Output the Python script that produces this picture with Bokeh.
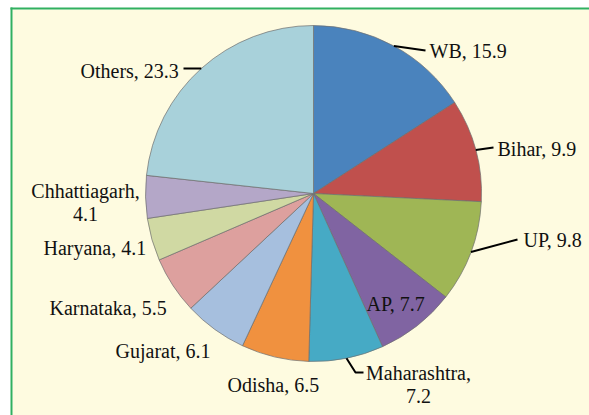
import numpy as np
from bokeh.plotting import figure
from bokeh.models import Range1d, ColumnDataSource
from bokeh.core.properties import value
from bokeh.embed import file_html
from bokeh.resources import INLINE

# ---- data ----
categories = ["WB", "Bihar", "UP", "AP", "Maharashtra", "Odisha", "Gujarat",
              "Karnataka", "Haryana", "Chhattiagarh", "Others"]
shares = [15.9, 9.9, 9.8, 7.7, 7.2, 6.5, 6.1, 5.5, 4.1, 4.1, 23.3]
colors = ["#4A83BD", "#C0504D", "#9FB655", "#8064A2", "#46AAC5", "#F0913F",
          "#A6BFDE", "#DDA09E", "#D0D9A3", "#B4A7C8", "#A8D1DA"]
two_line = {"Maharashtra", "Chhattiagarh"}

# ---- layout (page pixel coordinates) ----
W, H = 589, 415
def X(px):
    return px
def Y(py):
    return H - py

cx, cy, R = 313, 193, 168
# label anchor: (x, first baseline y, align), leader end points (page coords) or None
label_layout = {
    "WB": (429, 50, "left", [(425, 50)]),
    "Bihar": (497, 148, "left", [(493, 147)]),
    "UP": (523, 239, "left", [(517, 239)]),
    "AP": (366, 303, "left", None),
    "Maharashtra": (418, 372, "center", [(355, 372), (363, 372)]),
    "Odisha": (227, 384, "left", None),
    "Gujarat": (115, 350, "left", None),
    "Karnataka": (49, 307, "left", None),
    "Haryana": (43, 247, "left", None),
    "Chhattiagarh": (85, 190, "center", None),
    "Others": (80, 70, "left", [(183, 68)]),
}
line_step = 23

p = figure(width=W, height=H, output_backend="svg", toolbar_location=None,
           x_range=Range1d(0, W), y_range=Range1d(0, H), min_border=0)
p.axis.visible = False
p.grid.visible = False
p.outline_line_color = None
p.background_fill_color = "white"
p.border_fill_color = "white"

# panel background and border
p.quad(left=X(12), right=W, bottom=0, top=Y(9), fill_color="#FEFBE0", line_color=None)
p.line(x=[X(10), W], y=[Y(8), Y(8)], line_color="#30B060", line_width=2)
p.line(x=[X(11), X(11)], y=[0, Y(7)], line_color="#30B060", line_width=2)

# wedges
vals = np.array(shares, dtype=float)
total = vals.sum()
cum = np.concatenate([[0], np.cumsum(vals)])
start = np.pi / 2 - 2 * np.pi * cum[1:] / total
end = np.pi / 2 - 2 * np.pi * cum[:-1] / total
src = ColumnDataSource(dict(start=start, end=end, color=colors, cat=categories))
p.wedge(x=X(cx), y=Y(cy), radius=R, start_angle="start", end_angle="end",
        fill_color="color", line_color="#6E6E6E", line_width=0.7, source=src)

# labels and leader lines
tx, ty, tt, ta = [], [], [], []
for i, (cat, v) in enumerate(zip(categories, shares)):
    lx, ly, align, leader = label_layout[cat]
    lines = [f"{cat},", f"{v}"] if cat in two_line else [f"{cat}, {v}"]
    for k, s in enumerate(lines):
        tx.append(X(lx)); ty.append(Y(ly + k * line_step)); tt.append(s); ta.append(align)
    if leader:
        mid = 2 * np.pi * (cum[i] + v / 2) / total
        sx = cx + R * np.sin(mid)
        sy = cy - R * np.cos(mid)
        xs = [X(sx)] + [X(a) for a, b in leader]
        ys = [Y(sy)] + [Y(b) for a, b in leader]
        p.line(x=xs, y=ys, line_color="black", line_width=2)

for align in ("left", "center"):
    idx = [j for j, a in enumerate(ta) if a == align]
    p.text(x=[tx[j] for j in idx], y=[ty[j] for j in idx], text=[tt[j] for j in idx],
           text_font=value("Liberation Serif"), text_font_size="20px",
           text_color="#111111", text_align=align, text_baseline="alphabetic")

open("out.html", "w").write(file_html(p, INLINE))
